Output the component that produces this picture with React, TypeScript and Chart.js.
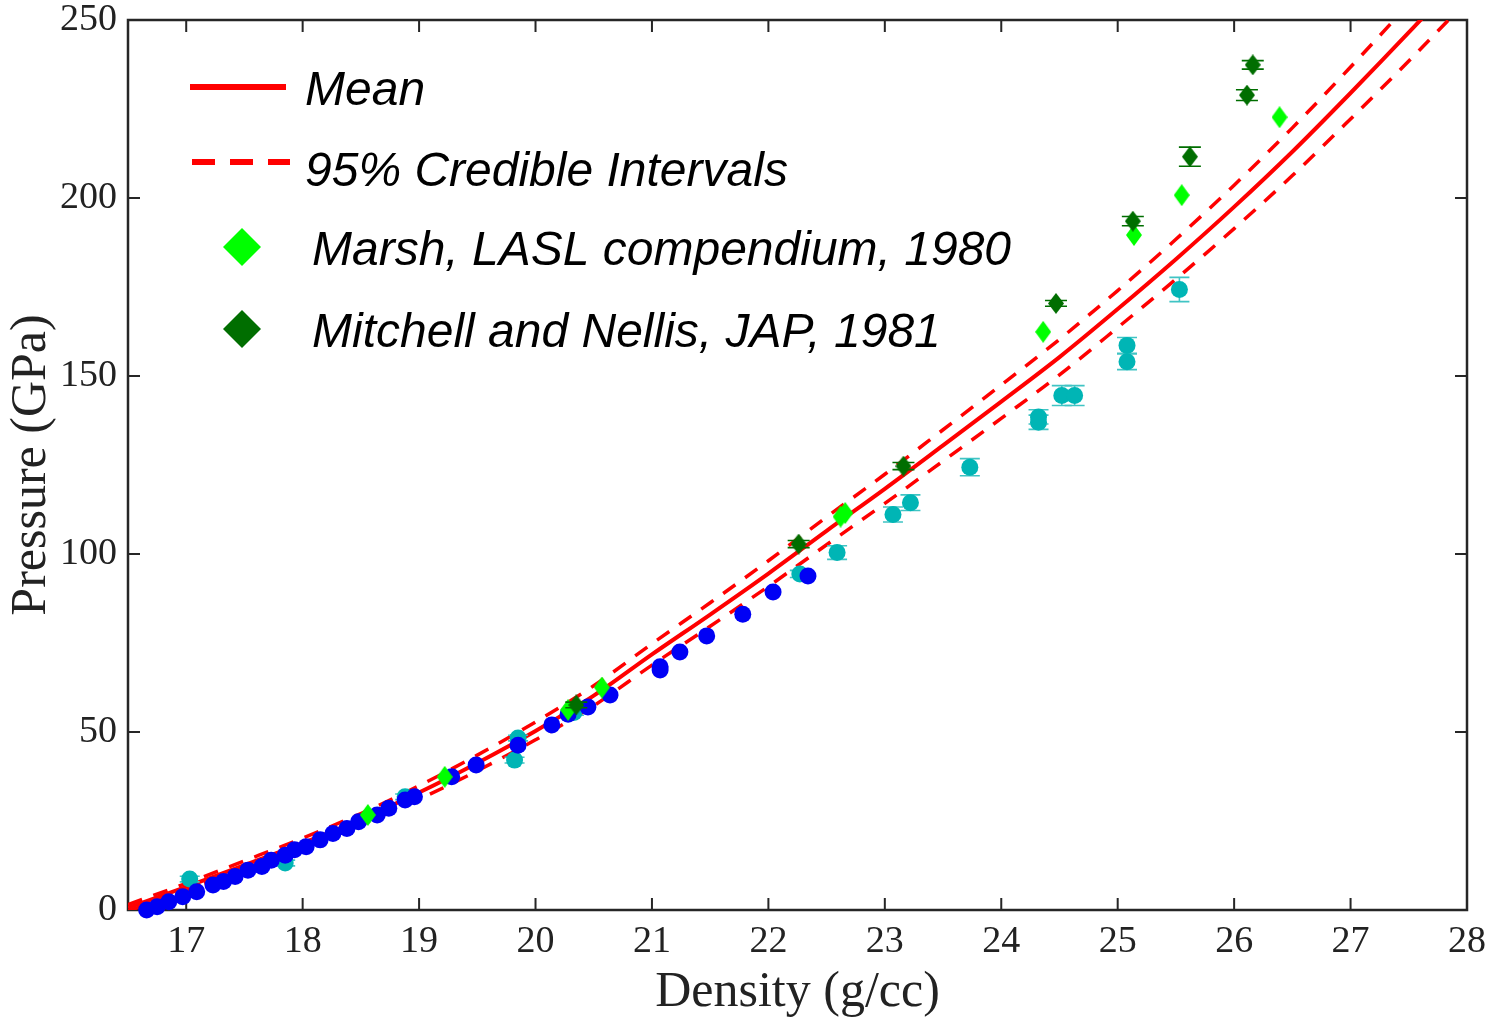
import React, { useEffect, useRef } from "react";
import { Chart, registerables } from "chart.js";

Chart.register(...registerables);

// ---- Curves ----
const densityGrid = [16.5, 17, 17.5, 18, 18.5, 19, 19.5, 20, 20.5, 21, 21.5, 22, 22.5, 23, 23.5, 24, 24.5, 25, 25.5, 26, 26.5, 27, 27.5, 28];
const meanPressure = [0.6, 6.5, 12.6, 18.8, 25.5, 33.0, 41.3, 50.3, 60.2, 71.8, 83.0, 94.5, 106.5, 118.3, 130.5, 142.8, 155.3, 168.8, 182.8, 197.5, 213.0, 229.5, 246.5, 264.0];
const upperPressure = [1.5, 7.5, 13.8, 20.2, 27.1, 34.9, 43.5, 52.8, 63.0, 74.8, 86.3, 98.1, 110.4, 122.4, 134.9, 147.5, 160.3, 174.0, 188.4, 203.6, 219.7, 236.8, 254.5, 272.6];
const lowerPressure = [-0.3, 5.5, 11.4, 17.4, 23.9, 31.1, 39.1, 47.8, 57.4, 68.8, 79.7, 90.9, 102.6, 114.2, 126.1, 138.1, 150.3, 163.6, 177.2, 191.4, 206.3, 222.2, 238.5, 255.4];

// ---- Blue points ----
const blueDensity = [16.66, 16.75, 16.85, 16.97, 17.09, 17.23, 17.32, 17.42, 17.53, 17.65, 17.73, 17.85, 17.93, 18.03, 18.15, 18.26, 18.38, 18.48, 18.64, 18.74, 18.88, 18.96, 19.28, 19.49, 19.85, 20.14, 20.28, 20.45, 20.64, 21.07, 21.07, 21.24, 21.47, 21.78, 22.04, 22.34];
const bluePressure = [0.0, 0.9, 2.3, 3.7, 5.1, 7.0, 8.0, 9.4, 11.2, 12.2, 14.0, 15.4, 16.9, 17.8, 19.7, 21.5, 22.9, 24.8, 26.7, 28.6, 30.9, 31.8, 37.4, 40.7, 46.3, 52.0, 55.0, 57.0, 60.4, 68.3, 67.4, 72.5, 77.0, 83.1, 89.3, 93.8];

// ---- Cyan points with error bars ----
const cyanDensity = [17.03, 17.85, 18.88, 19.82, 19.85, 20.33, 22.27, 22.59, 23.07, 23.22, 23.73, 24.32, 24.32, 24.52, 24.63, 25.08, 25.08, 25.53];
const cyanPressure = [8.7, 13.2, 31.8, 42.1, 48.3, 55.5, 94.4, 100.4, 111.1, 114.4, 124.4, 138.5, 137.0, 144.5, 144.5, 158.6, 154.0, 174.3];
const cyanError = [0.8, 0.8, 0.8, 0.8, 0.8, 0.8, 1.0, 1.9, 2.1, 2.2, 2.4, 2.0, 2.0, 2.8, 2.8, 2.2, 2.2, 3.4];

// ---- Marsh, LASL compendium, 1980 ----
const marshDensity = [18.56, 19.22, 20.28, 20.57, 22.62, 22.66, 24.36, 25.14, 25.55, 26.39];
const marshPressure = [26.7, 37.4, 56.2, 62.5, 110.5, 111.5, 162.4, 189.6, 200.8, 222.7];

// ---- Mitchell and Nellis, JAP, 1981 ----
const mitchellDensity = [20.35, 22.26, 23.16, 24.47, 25.13, 25.62, 26.11, 26.16];
const mitchellPressure = [57.6, 102.8, 124.7, 170.4, 193.5, 211.6, 228.9, 237.4];
const mitchellError = [0.8, 1.0, 1.0, 0.8, 1.3, 2.7, 1.5, 1.2];

const xTicks = [17, 18, 19, 20, 21, 22, 23, 24, 25, 26, 27, 28];
const yTicks = [0, 50, 100, 150, 200, 250];
const legendLabels = ["Mean", "95% Credible Intervals", "Marsh, LASL compendium, 1980", "Mitchell and Nellis, JAP, 1981"];

const RED = "#FF0000";
const BLUE = "#0000F5";
const CYAN = "#00B5B5";
const CYAN_BAR = "#40C4C4";
const LIGHT_GREEN = "#00FF00";
const DARK_GREEN = "#006E00";
const AXIS = "#262626";

const zip = (xs: number[], ys: number[]) => xs.map((x, i) => ({ x, y: ys[i] }));

function makeDiamond(w: number, h: number, color: string): HTMLCanvasElement {
  const c = document.createElement("canvas");
  c.width = w;
  c.height = h;
  const ctx = c.getContext("2d")!;
  ctx.fillStyle = color;
  ctx.beginPath();
  ctx.moveTo(w / 2, 0);
  ctx.lineTo(w, h / 2);
  ctx.lineTo(w / 2, h);
  ctx.lineTo(0, h / 2);
  ctx.closePath();
  ctx.fill();
  return c;
}

const errorBars: Record<string, { err: number[]; color: string; cap: number }> = {
  cyan: { err: cyanError, color: CYAN_BAR, cap: 10 },
  mitchell: { err: mitchellError, color: DARK_GREEN, cap: 11 },
};

const errorBarPlugin = {
  id: "errorBars",
  beforeDatasetDraw(chart: any, args: any) {
    const ds = chart.data.datasets[args.index];
    const info = errorBars[ds.label];
    if (!info) return;
    const ctx = chart.ctx;
    const xs = chart.scales.x;
    const ys = chart.scales.y;
    ctx.save();
    ctx.strokeStyle = info.color;
    ctx.lineWidth = 1.6;
    ds.data.forEach((pt: any, i: number) => {
      const px = xs.getPixelForValue(pt.x);
      const top = ys.getPixelForValue(pt.y + info.err[i]);
      const bot = ys.getPixelForValue(pt.y - info.err[i]);
      ctx.beginPath();
      ctx.moveTo(px, top);
      ctx.lineTo(px, bot);
      ctx.moveTo(px - info.cap, top);
      ctx.lineTo(px + info.cap, top);
      ctx.moveTo(px - info.cap, bot);
      ctx.lineTo(px + info.cap, bot);
      ctx.stroke();
    });
    ctx.restore();
  },
};

const framePlugin = {
  id: "frame",
  beforeDatasetsDraw(chart: any) {
    const { ctx, chartArea } = chart;
    const { left, right, top, bottom } = chartArea;
    const xs = chart.scales.x;
    const ys = chart.scales.y;
    ctx.save();
    ctx.strokeStyle = AXIS;
    ctx.lineWidth = 2;
    const tl = 12;
    ctx.beginPath();
    xTicks.forEach((v) => {
      const p = xs.getPixelForValue(v);
      ctx.moveTo(p, bottom);
      ctx.lineTo(p, bottom - tl);
      ctx.moveTo(p, top);
      ctx.lineTo(p, top + tl);
    });
    yTicks.forEach((v) => {
      const p = ys.getPixelForValue(v);
      ctx.moveTo(left, p);
      ctx.lineTo(left + tl, p);
      ctx.moveTo(right, p);
      ctx.lineTo(right - tl, p);
    });
    ctx.stroke();
    ctx.lineWidth = 2.5;
    ctx.strokeRect(left, top, right - left, bottom - top);
    ctx.restore();
  },
};

const legendPlugin = {
  id: "customLegend",
  afterDraw(chart: any) {
    const ctx = chart.ctx;
    ctx.save();
    ctx.strokeStyle = RED;
    ctx.lineWidth = 6;
    ctx.beginPath();
    ctx.moveTo(190, 87);
    ctx.lineTo(286, 87);
    ctx.stroke();
    ctx.setLineDash([23, 15]);
    ctx.beginPath();
    ctx.moveTo(192, 162);
    ctx.lineTo(290, 162);
    ctx.stroke();
    ctx.setLineDash([]);
    const d1 = makeDiamond(38, 38, LIGHT_GREEN);
    const d2 = makeDiamond(38, 38, DARK_GREEN);
    ctx.drawImage(d1, 242 - 19, 247 - 19);
    ctx.drawImage(d2, 242 - 19, 329 - 19);
    ctx.fillStyle = "#000";
    ctx.font = 'italic 48px "Liberation Sans", Arial, sans-serif';
    ctx.textBaseline = "alphabetic";
    ctx.textAlign = "left";
    ctx.fillText(legendLabels[0], 305, 105);
    ctx.fillText(legendLabels[1], 305, 186);
    ctx.fillText(legendLabels[2], 312, 265);
    ctx.fillText(legendLabels[3], 312, 347);
    ctx.restore();
  },
};

export default function App() {
  const ref = useRef<HTMLCanvasElement | null>(null);

  useEffect(() => {
    if (!ref.current) return;
    const marshDiamond = makeDiamond(16, 22, LIGHT_GREEN);
    const mitchellDiamond = makeDiamond(16, 21, DARK_GREEN);
    const tickFont = { family: '"Liberation Serif", "Times New Roman", serif', size: 38, lineHeight: 1 };
    const titleFont = { family: '"Liberation Serif", "Times New Roman", serif', size: 50, lineHeight: 1 };

    const chart = new Chart(ref.current, {
      type: "scatter",
      data: {
        datasets: [
          {
            label: "mitchell",
            data: zip(mitchellDensity, mitchellPressure),
            pointStyle: mitchellDiamond as any,
            pointRadius: 10,
            backgroundColor: DARK_GREEN,
            borderWidth: 0,
            order: 1,
            clip: false as any,
          },
          {
            label: "marsh",
            data: zip(marshDensity, marshPressure),
            pointStyle: marshDiamond as any,
            pointRadius: 10,
            backgroundColor: LIGHT_GREEN,
            borderWidth: 0,
            order: 2,
            clip: false as any,
          },
          {
            label: "blue",
            data: zip(blueDensity, bluePressure),
            pointStyle: "circle",
            pointRadius: 8.5,
            backgroundColor: BLUE,
            borderWidth: 0,
            order: 3,
            clip: false as any,
          },
          {
            label: "cyan",
            data: zip(cyanDensity, cyanPressure),
            pointStyle: "circle",
            pointRadius: 8.5,
            backgroundColor: CYAN,
            borderWidth: 0,
            order: 4,
            clip: false as any,
          },
          {
            label: "mean",
            data: zip(densityGrid, meanPressure),
            showLine: true,
            pointRadius: 0,
            borderColor: RED,
            borderWidth: 4,
            cubicInterpolationMode: "monotone",
            order: 5,
          } as any,
          {
            label: "upper",
            data: zip(densityGrid, upperPressure),
            showLine: true,
            pointRadius: 0,
            borderColor: RED,
            borderWidth: 3.5,
            borderDash: [15, 12],
            cubicInterpolationMode: "monotone",
            order: 6,
          } as any,
          {
            label: "lower",
            data: zip(densityGrid, lowerPressure),
            showLine: true,
            pointRadius: 0,
            borderColor: RED,
            borderWidth: 3.5,
            borderDash: [15, 12],
            cubicInterpolationMode: "monotone",
            order: 7,
          } as any,
        ],
      },
      options: {
        responsive: false,
        animation: false,
        devicePixelRatio: 1,
        layout: { padding: { top: 20, right: 22, left: 0, bottom: 0 } },
        plugins: { legend: { display: false }, tooltip: { enabled: false } },
        events: [],
        scales: {
          x: {
            type: "linear",
            min: 16.5,
            max: 28,
            afterBuildTicks: (s: any) => {
              s.ticks = xTicks.map((v) => ({ value: v }));
            },
            afterFit: (s: any) => {
              s.height = 109;
              s.paddingLeft = 0;
              s.paddingRight = 0;
            },
            grid: { display: false, drawTicks: false },
            border: { display: false },
            ticks: { font: tickFont, color: "#222", padding: 13, maxRotation: 0, autoSkip: false },
            title: { display: true, text: "Density (g/cc)", font: titleFont, color: "#222", padding: { top: 0, bottom: 1 } },
          },
          y: {
            type: "linear",
            min: 0,
            max: 250,
            afterBuildTicks: (s: any) => {
              s.ticks = yTicks.map((v) => ({ value: v }));
            },
            afterFit: (s: any) => {
              s.width = 128;
              s.paddingTop = 0;
              s.paddingBottom = 0;
            },
            grid: { display: false, drawTicks: false },
            border: { display: false },
            ticks: { font: tickFont, color: "#222", padding: 11 },
            title: { display: true, text: "Pressure (GPa)", font: titleFont, color: "#222", padding: { top: 7, bottom: 0 } },
          },
        },
      } as any,
      plugins: [framePlugin, errorBarPlugin, legendPlugin],
    });
    return () => chart.destroy();
  }, []);

  return (
    <div style={{ position: "fixed", left: 0, top: 0, width: 1489, height: 1019, background: "#fff" }}>
      <canvas ref={ref} width={1489} height={1019} style={{ display: "block", width: 1489, height: 1019 }} />
    </div>
  );
}
